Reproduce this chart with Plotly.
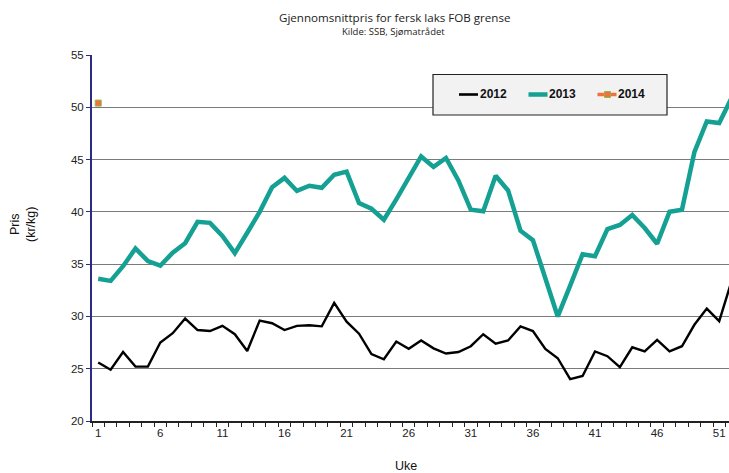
import plotly.graph_objects as go

weeks = list(range(1, 53))
price_2012 = [25.6, 24.9, 26.6, 25.2, 25.2, 27.5, 28.4, 29.8, 28.7, 28.6,
              29.1, 28.3, 26.7, 29.6, 29.35, 28.7, 29.1, 29.15, 29.05, 31.3,
              29.5, 28.35, 26.4, 25.9, 27.6, 26.9, 27.7, 26.95, 26.45, 26.6,
              27.15, 28.3, 27.4, 27.7, 29.05, 28.6, 26.9, 26.0, 24.0, 24.3,
              26.65, 26.2, 25.15, 27.05, 26.65, 27.75, 26.65, 27.15, 29.2, 30.75,
              29.55, 33.4]
price_2013 = [33.6, 33.4, 34.8, 36.5, 35.3, 34.85, 36.1, 37.0, 39.05, 38.95,
              37.7, 36.05, 38.0, 40.0, 42.35, 43.25, 42.0, 42.5, 42.3, 43.55,
              43.85, 40.85, 40.3, 39.25, 41.2, 43.25, 45.3, 44.3, 45.15, 43.0,
              40.2, 40.05, 43.45, 42.05, 38.2, 37.3, 33.75, 30.0, 32.95, 35.95,
              35.75, 38.35, 38.75, 39.7, 38.45, 36.95, 40.0, 40.2, 45.7, 48.65,
              48.5, 50.9]
weeks_2014 = [1]
price_2014 = [50.4]
x_tick_labels = [1, 6, 11, 16, 21, 26, 31, 36, 41, 46, 51]
y_ticks = [20, 25, 30, 35, 40, 45, 50, 55]

C2012 = "#000000"
C2013 = "#14a092"
C2014 = "#f2703c"
C2014_EDGE = "#8fb848"
FONT = "Liberation Sans, Arial, sans-serif"

fig = go.Figure()
fig.add_trace(go.Scatter(x=weeks, y=price_2012, mode="lines", name="2012",
                         line=dict(color=C2012, width=2.4)))
fig.add_trace(go.Scatter(x=weeks, y=price_2013, mode="lines", name="2013",
                         line=dict(color=C2013, width=4.5)))
fig.add_trace(go.Scatter(x=weeks_2014, y=price_2014, mode="markers", name="2014",
                         marker=dict(symbol="square", size=6, color=C2014,
                                     line=dict(color=C2014_EDGE, width=1)),
                         cliponaxis=False))

L, T, PW, PH = 92, 55, 637, 366


def px(x):
    return (x - L) / PW


def py(y):
    return (T + PH - y) / PH


shapes = []
annotations = []
# custom legend box
shapes.append(dict(type="rect", xref="paper", yref="paper", layer="above",
                   x0=px(433), x1=px(667), y0=py(115), y1=py(74.5),
                   fillcolor="#f2f2f2", line=dict(color="#222", width=1.2)))
ly = py(94.5)
legend_items = [("2012", 459, C2012, 2.6), ("2013", 528.5, C2013, 4.5), ("2014", 597.5, C2014, 3.5)]
for name, x0, col, w in legend_items:
    shapes.append(dict(type="line", xref="paper", yref="paper", layer="above",
                       x0=px(x0), x1=px(x0 + 19), y0=ly, y1=ly,
                       line=dict(color=col, width=w)))
    annotations.append(dict(text=f"<b>{name}</b>", xref="paper", yref="paper",
                            x=px(x0 + 18.5), y=ly, xanchor="left", yanchor="middle",
                            showarrow=False, font=dict(family=FONT, size=12, color="#111")))
shapes.append(dict(type="rect", xref="paper", yref="paper", layer="above",
                   x0=px(604.5), x1=px(610.5), y0=py(97.5), y1=py(91.5),
                   fillcolor=C2014, line=dict(color=C2014_EDGE, width=1)))

annotations += [
    dict(text="Gjennomsnittpris for fersk laks FOB grense", xref="paper", yref="paper",
         x=px(395), y=py(17), xanchor="center", yanchor="middle", showarrow=False,
         font=dict(family="Open Sans, sans-serif", size=11.6, color="#222")),
    dict(text="Kilde: SSB, Sjømatrådet", xref="paper", yref="paper",
         x=px(393), y=py(31.5), xanchor="center", yanchor="middle", showarrow=False,
         font=dict(family="Open Sans, sans-serif", size=9.5, color="#222")),
    dict(text="Pris<br>(kr/kg)", xref="paper", yref="paper", textangle=-90,
         x=px(23), y=py(225), xanchor="center", yanchor="middle", showarrow=False,
         font=dict(family=FONT, size=12.5, color="#111")),
    dict(text="Uke", xref="paper", yref="paper",
         x=px(406), y=py(466), xanchor="center", yanchor="middle", showarrow=False,
         font=dict(family=FONT, size=12.5, color="#111")),
]

fig.update_layout(
    width=729, height=473,
    margin=dict(l=L, r=729 - L - PW, t=T, b=473 - T - PH, pad=0),
    plot_bgcolor="white", paper_bgcolor="white",
    showlegend=False,
    shapes=shapes, annotations=annotations,
    xaxis=dict(range=[0.5, 0.5 + PW / 12.42], tickmode="array", tickvals=x_tick_labels,
               ticktext=[str(v) for v in x_tick_labels], ticks="outside", ticklen=0,
               showgrid=False, zeroline=False, showline=True, linecolor="#222", linewidth=1.5,
               tickfont=dict(family=FONT, size=11.5, color="#222"),
               minor=dict(tickmode="linear", tick0=0.5, dtick=1, ticks="outside",
                          ticklen=4, tickcolor="#222", tickwidth=1, showgrid=False)),
    yaxis=dict(range=[20, 55], tickmode="array", tickvals=y_ticks, ticks="outside",
               ticklen=4, tickcolor="#2b2b86", tickwidth=1,
               showgrid=True, gridcolor="#7a7a7a", gridwidth=1,
               zeroline=False, showline=True, linecolor="#2b2b86", linewidth=2,
               tickfont=dict(family=FONT, size=11.5, color="#222")),
)

fig.write_html("out.html", config={"displayModeBar": False},
               post_script="document.body.style.margin='0';document.body.style.overflow='hidden';")
